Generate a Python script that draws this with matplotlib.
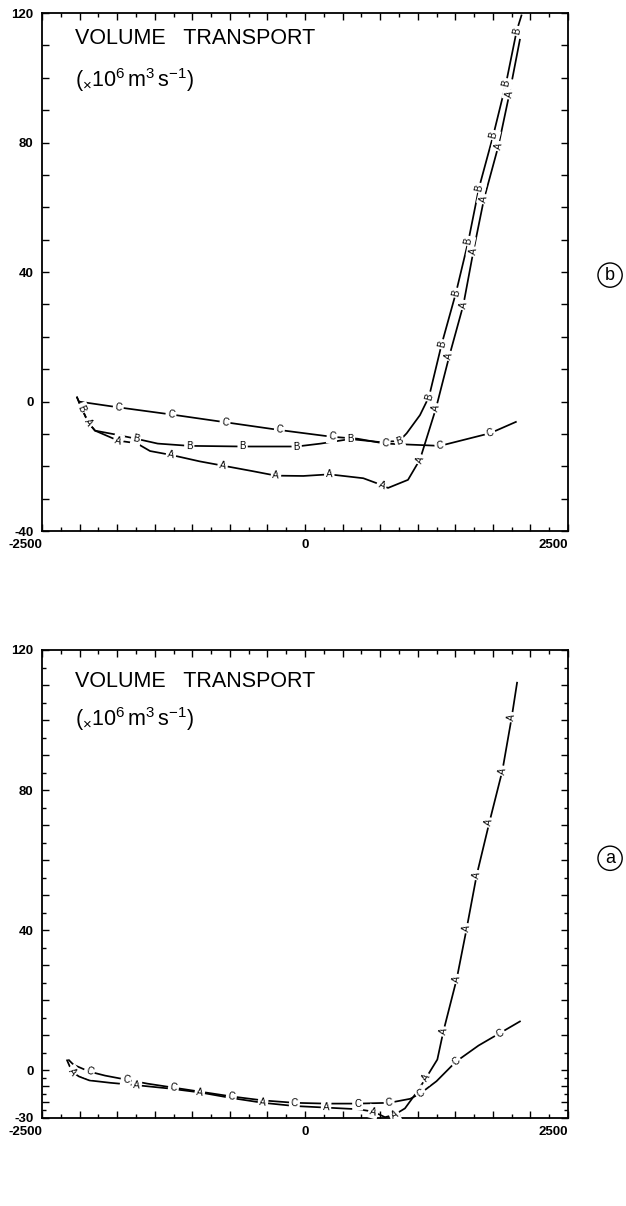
import numpy as np
import matplotlib
matplotlib.use("Agg")
import matplotlib.pyplot as plt
from matplotlib.ticker import FixedLocator, FuncFormatter

plt.rcParams['font.family'] = ['Liberation Sans', 'DejaVu Sans']
plt.rcParams['mathtext.fontset'] = 'custom'
plt.rcParams['mathtext.rm'] = 'Liberation Sans'
plt.rcParams['mathtext.it'] = 'Liberation Sans'

# ---------------- panel (b) ----------------
b_A_x = [-2170, -2123, -2060, -1996, -1775, -1600, -1473, -1274, -1000, -783, -500,
         -276, -16, 231, 554, 729, 789, 979, 1093, 1245, 1372, 1505, 1600, 1701,
         1838, 1942, 2044]
b_A_y = [1.5, -2.1, -6.5, -9.0, -12.1, -12.9, -15.3, -16.5, -18.5, -19.8, -21.5,
         -22.9, -23.0, -22.5, -23.7, -25.8, -26.7, -24.2, -17.9, -2.1, 14.1, 29.8,
         46.3, 62.5, 78.9, 94.9, 112.0]
b_A_marks = [2, 4, 7, 9, 11, 13, 15, 18, 19, 20, 21, 22, 23, 24, 25]

b_B_x = [-2170, -2123, -2060, -1996, -1800, -1606, -1400, -1100, -593, -79, 150,
         428, 700, 897, 967, 1093, 1179, 1299, 1435, 1553, 1654, 1790, 1911, 2012, 2060]
b_B_y = [1.5, -2.1, -6.5, -9.0, -10.2, -11.5, -13.0, -13.7, -13.9, -13.9, -13.0,
         -11.6, -12.5, -12.2, -9.8, -4.2, 1.5, 17.7, 33.6, 49.6, 66.0, 82.3, 98.3,
         114.5, 119.5]
b_B_marks = [1, 5, 7, 8, 9, 11, 13, 16, 17, 18, 19, 20, 21, 22, 23]

b_C_x = [-2155, -1775, -1274, -760, -244, 257, 500, 760, 1283, 1759, 2012]
b_C_y = [0.0, -1.8, -4.0, -6.4, -8.8, -10.9, -11.5, -13.0, -13.7, -9.8, -6.2]
b_C_marks = [1, 2, 3, 4, 5, 7, 8, 9]

# ---------------- panel (a) ----------------
a_A_x = [-2265, -2215, -2150, -2050, -1850, -1600, -1300, -1000, -700, -400, -100,
         200, 500, 650, 760, 850, 950, 1050, 1150, 1258, 1315, 1442, 1537, 1632,
         1752, 1876, 1965, 2017]
a_A_y = [3.0, -1.0, -4.0, -6.5, -8.0, -9.5, -11.5, -14.0, -17.5, -20.5, -22.5,
         -23.5, -24.5, -26.0, -29.5, -28.0, -24.0, -15.0, -5.0, 3.0, 11.0, 26.0,
         40.5, 55.7, 70.7, 85.5, 100.8, 110.9]
a_A_marks = [1, 5, 7, 9, 11, 13, 15, 18, 20, 21, 22, 23, 24, 25, 26]

a_C_x = [-2250, -2200, -2050, -1900, -1700, -1500, -1250, -1000, -700, -400, -100,
         200, 500, 800, 1000, 1100, 1250, 1435, 1650, 1850, 2050]
a_C_y = [3.0, 1.5, -1.0, -3.5, -6.0, -8.5, -11.0, -13.5, -16.5, -19.0, -20.5,
         -21.0, -21.0, -20.5, -18.0, -14.5, -7.0, 2.4, 7.0, 10.5, 14.0]
a_C_marks = [2, 4, 6, 8, 10, 12, 13, 15, 17, 19]

x_ticks = np.linspace(-2500, 2500, 29)
x_labels = {-2500: '-2500', 0: '0', 2500: '2500'}

W, H = 626, 1206
fig = plt.figure(figsize=(W / 100, H / 100), dpi=100)


def px_axes(left, top, right, bottom):
    return fig.add_axes([left / W, 1 - bottom / H, (right - left) / W, (bottom - top) / H])


def curve(ax, xs, ys, marks, letter):
    ax.plot(xs, ys, color='black', lw=1.25, solid_capstyle='butt', zorder=2)
    pts = ax.transData.transform(np.column_stack([xs, ys]))
    for i in marks:
        j0, j1 = max(i - 1, 0), min(i + 1, len(xs) - 1)
        dx, dy = pts[j1] - pts[j0]
        ang = np.degrees(np.arctan2(dy, dx))
        if ang > 90:
            ang -= 180
        elif ang < -90:
            ang += 180
        ax.text(xs[i], ys[i], letter, fontsize=7, ha='center', va='center',
                rotation=ang, rotation_mode='anchor', zorder=3,
                bbox=dict(boxstyle='square,pad=0.2', fc='white', ec='none'))


def frame(ax, ylo, yhi, ymajor, yminor, ylabels):
    ax.set_xlim(-2500, 2500)
    ax.set_ylim(ylo, yhi)
    for s in ax.spines.values():
        s.set_linewidth(1.3)
    ax.xaxis.set_major_locator(FixedLocator(x_ticks[::2]))
    ax.xaxis.set_minor_locator(FixedLocator(x_ticks[1::2]))
    ax.yaxis.set_major_locator(FixedLocator(ymajor))
    if yminor is not None:
        ax.yaxis.set_minor_locator(FixedLocator(yminor))
    ax.xaxis.set_major_formatter(FuncFormatter(
        lambda v, p: x_labels.get(int(round(v)), '') if abs(v - round(v)) < 1e-6 else ''))
    ax.yaxis.set_major_formatter(FuncFormatter(
        lambda v, p: ylabels.get(int(round(v)), '') if abs(v - round(v)) < 1e-6 else ''))
    ax.tick_params(which='both', direction='in', top=True, right=True, width=1.0,
                   labelsize=9.5, pad=6)
    ax.tick_params(which='major', length=5)
    ax.tick_params(which='minor', length=3)
    ax.figure.canvas.draw()
    for lab in ax.get_xticklabels() + ax.get_yticklabels():
        lab.set_fontweight('bold')
    # outer x labels sit flush with their ticks
    for lab in ax.get_xticklabels():
        if lab.get_text() in ('-2500', '2500'):
            lab.set_horizontalalignment('right')


def title(ax, y1, y2):
    ax.text(0.063, y1, 'VOLUME   TRANSPORT', transform=ax.transAxes,
            fontsize=15.5, ha='left', va='center')
    ax.text(0.063, y2, r'$\mathrm{(}_{\times}\mathrm{10^6\,m^3\,s^{-1})}$',
            transform=ax.transAxes, fontsize=15.5, ha='left', va='center')


# top panel (b)
ax_b = px_axes(42, 13, 568, 531)
frame(ax_b, -40, 120, np.arange(-40, 121, 10), None,
      {120: '120', 80: '80', 40: '40', 0: '0', -40: '-40'})
curve(ax_b, b_C_x, b_C_y, b_C_marks, 'C')
curve(ax_b, b_B_x, b_B_y, b_B_marks, 'B')
curve(ax_b, b_A_x, b_A_y, b_A_marks, 'A')
title(ax_b, 0.950, 0.871)
ax_b.text(1.08, 0.494, 'b', transform=ax_b.transAxes, fontsize=13, ha='center',
          va='center', bbox=dict(boxstyle='circle,pad=0.2', fc='white', ec='black', lw=1.0))

# bottom panel (a): the axis is compressed below zero
NEG = 0.457


def fwd(y):
    y = np.asarray(y, dtype=float)
    return np.where(y >= 0, y, y * NEG)


def inv(y):
    y = np.asarray(y, dtype=float)
    return np.where(y >= 0, y, y / NEG)


ax_a = px_axes(42, 650, 568, 1118)
ax_a.set_yscale('function', functions=(fwd, inv))
frame(ax_a, -30, 120, list(range(-30, 121, 10)), list(range(-25, 120, 10)),
      {120: '120', 80: '80', 40: '40', 0: '0', -30: '-30'})
curve(ax_a, a_C_x, a_C_y, a_C_marks, 'C')
curve(ax_a, a_A_x, a_A_y, a_A_marks, 'A')
title(ax_a, 0.932, 0.853)
ax_a.text(1.08, 0.555, 'a', transform=ax_a.transAxes, fontsize=13, ha='center',
          va='center', bbox=dict(boxstyle='circle,pad=0.2', fc='white', ec='black', lw=1.0))

fig.savefig('out.png', dpi=100)
